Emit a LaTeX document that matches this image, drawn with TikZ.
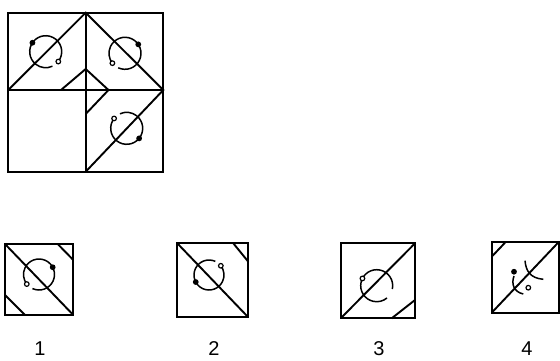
\documentclass[tikz,border=0pt]{standalone}
\usepackage{fontspec}
\setmainfont{Liberation Sans}
\usetikzlibrary{calc}
\begin{document}
\begin{tikzpicture}[x=1pt,y=-1pt,
  frame/.style={line width=1.9pt,line join=miter},
  ring/.style={line width=1.5pt},
  hole/.style={line width=1.2pt,fill=white,draw=black},
  dot/.style={fill=black},
  lbl/.style={font=\fontsize{20}{20}\selectfont,inner sep=0pt,anchor=base}]
\useasboundingbox (0,0) rectangle (560,360);
% main grid
\coordinate (A) at (8.3,12.7); \coordinate (B) at (85.7,12.7); \coordinate (C) at (163.3,12.7);
\coordinate (D) at (8.3,90); \coordinate (E) at (85.7,90); \coordinate (F) at (163.3,90);
\coordinate (G) at (8.3,171.7); \coordinate (H) at (85.7,171.7); \coordinate (I) at (163.3,171.7);
\draw[frame] (A) rectangle (I);
\draw[frame] (B) -- (H);
\draw[frame] (D) -- (F);
\draw[frame] (D) -- (B) -- (F) -- (H);
\coordinate (m1) at (61,90); \coordinate (m2) at (85.7,69); \coordinate (m3) at (108.5,90); \coordinate (m4) at (85.7,114);
\draw[frame] (m1) -- (m2) -- (m3) -- (m4);
% TL circle
\coordinate (c1) at (45.7,51.7);
\draw[ring] ($(c1)+(38:16)$) arc[start angle=38,end angle=-295,radius=16];
\fill[dot] ($(c1)+(-146:16)$) circle (2.9);
\draw[hole] ($(c1)+(38:16)$) circle (2.3);
% TR circle
\coordinate (c2) at (125,53.3);
\draw[ring] ($(c2)+(-245:16)$) arc[start angle=-245,end angle=-578,radius=16];
\fill[dot] ($(c2)+(-34:16)$) circle (2.9);
\draw[hole] ($(c2)+(-218:16)$) circle (2.3);
% BR circle
\coordinate (c3) at (126.7,128.3);
\draw[ring] ($(c3)+(-142:16)$) arc[start angle=-142,end angle=-475,radius=16];
\fill[dot] ($(c3)+(39:16)$) circle (2.9);
\draw[hole] ($(c3)+(-142:16)$) circle (2.3);
% option 1
\coordinate (p1a) at (5,244); \coordinate (p1b) at (73.3,315);
\draw[frame] (p1a) rectangle (p1b);
\draw[frame] (p1a) -- (p1b);
\coordinate (p1c) at (57.7,244); \coordinate (p1d) at (73.3,260);
\draw[frame] (p1c) -- (p1d);
\coordinate (p1e) at (5,295); \coordinate (p1f) at (25,315);
\draw[frame] (p1e) -- (p1f);
\coordinate (o1) at (39,274.5);
\draw[ring] ($(o1)+(-245:15.5)$) arc[start angle=-245,end angle=-578,radius=15.5];
\fill[dot] ($(o1)+(-28:15.5)$) circle (2.9);
\draw[hole] ($(o1)+(-218:15.5)$) circle (2.3);
\node[lbl] (l1) at (40,355) {1};
% option 2
\coordinate (p2a) at (177.3,243.3); \coordinate (p2b) at (248.3,317.3);
\draw[frame] (p2a) rectangle (p2b);
\draw[frame] (p2a) -- (p2b);
\coordinate (p2c) at (233.3,243.3); \coordinate (p2d) at (248.3,261.7);
\draw[frame] (p2c) -- (p2d);
\coordinate (o2) at (209,275);
\draw[ring] ($(o2)+(-65:15)$) arc[start angle=-65,end angle=-398,radius=15];
\fill[dot] ($(o2)+(-208:15)$) circle (2.9);
\draw[hole] ($(o2)+(-38:15)$) circle (2.3);
\node[lbl] (l2) at (214,355) {2};
% option 3
\coordinate (p3a) at (340.7,243.3); \coordinate (p3b) at (415,318.3);
\coordinate (p3c) at (340.7,318.3); \coordinate (p3d) at (415,243.3);
\draw[frame] (p3a) rectangle (p3b);
\draw[frame] (p3c) -- (p3d);
\coordinate (p3e) at (391.7,318.3); \coordinate (p3f) at (415,300);
\draw[frame] (p3e) -- (p3f);
\coordinate (o3) at (376.7,285.7);
\draw[ring] ($(o3)+(12:16)$) arc[start angle=12,end angle=-310,radius=16];
\draw[hole] ($(o3)+(-153:16)$) circle (2.3);
\node[lbl] (l3) at (379,355) {3};
% option 4
\coordinate (p4a) at (491.7,241.7); \coordinate (p4b) at (559,312.7);
\coordinate (p4c) at (491.7,312.7); \coordinate (p4d) at (559,241.7);
\draw[frame] (p4a) rectangle (p4b);
\draw[frame] (p4c) -- (p4d);
\coordinate (p4e) at (491.7,256.7); \coordinate (p4f) at (505,242.7);
\draw[frame] (p4e) -- (p4f);
\coordinate (q1) at (525,260.7); \coordinate (q2) at (543.3,279.3);
\draw[ring] (q1) .. controls (526,271) and (530,278) .. (q2);
\coordinate (q3) at (514,276); \coordinate (q4) at (523.3,294);
\draw[ring] (q3) .. controls (511,284) and (514,292) .. (q4);
\fill[dot] (514,271.7) circle (2.9);
\draw[hole] (528.3,287.7) circle (2.3);
\node[lbl] (l4) at (527,355) {4};
\end{tikzpicture}
\end{document}
